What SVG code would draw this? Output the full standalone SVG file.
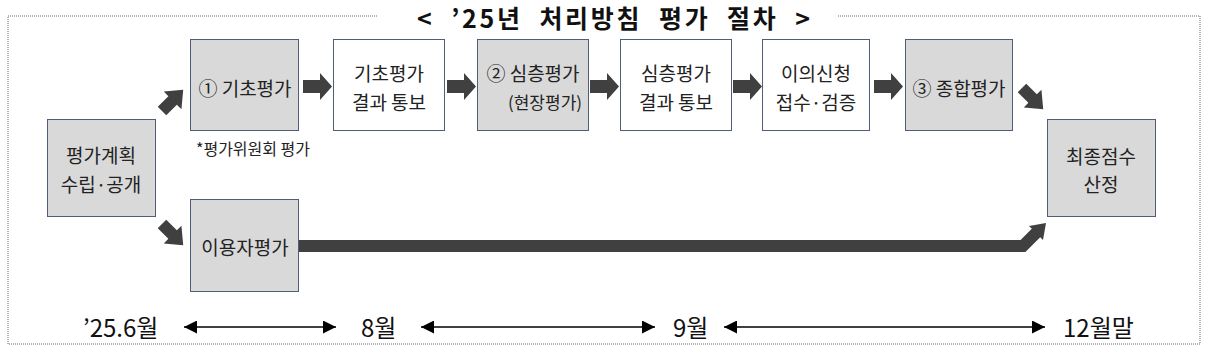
<svg xmlns="http://www.w3.org/2000/svg" width="1209" height="349" viewBox="0 0 1209 349">
<style>
.t{font-family:"Malgun Gothic","Noto Sans CJK KR",sans-serif;fill:#222;text-anchor:middle;dominant-baseline:central}
.b{font-size:19px}
.g{fill:#d9d9d9;stroke:#4f5d7a;stroke-width:1}
.w{fill:#ffffff;stroke:#4f5d7a;stroke-width:1}
.ar{fill:#404040}
.tl{font-family:"Malgun Gothic","Noto Sans CJK KR",sans-serif;font-size:24px;fill:#111;dominant-baseline:central}
</style>
<defs>
<path id="harrow" d="M0,-6.5 H17 V-13.5 L29,0 L17,13.5 V6.5 H0 Z"/>
<path id="darrow" d="M0,-6 H15 V-12.5 L30,0 L15,12.5 V6 H0 Z"/>
<marker id="tri" viewBox="0 0 10 10" refX="10" refY="5" markerWidth="15" markerHeight="13" markerUnits="userSpaceOnUse" orient="auto-start-reverse"><path d="M0,0 L10,5 L0,10 Z" fill="#000"/></marker>
</defs>

<g id="frame" fill="none" stroke="#666" stroke-width="1" stroke-dasharray="1,1">
<path d="M377,16 H8 V344 H1200 V16 H838"/>
</g>
<text x="417" y="17" textLength="393" lengthAdjust="spacing" xml:space="preserve" style="font-family:'Noto Sans CJK KR',sans-serif;font-weight:bold;font-size:25px;fill:#111;dominant-baseline:central">&lt;  ’25년  처리방침  평가  절차  &gt;</text>

<g id="n-plan"><rect class="g" x="47.5" y="119.5" width="108" height="97"/><text class="t b" x="101" y="154">평가계획</text><text class="t b" x="101" y="183">수립·공개</text></g>
<g id="n-basic"><rect class="g" x="190.5" y="39.5" width="108" height="91"/><text class="t b" x="245" y="87">① 기초평가</text></g>
<text class="t" x="253" y="148" style="font-size:16px">*평가위원회 평가</text>
<g id="n-basic-res"><rect class="w" x="333.5" y="39.5" width="111" height="91"/><text class="t b" x="389" y="72">기초평가</text><text class="t b" x="389" y="101">결과 통보</text></g>
<g id="n-deep"><rect class="g" x="477.5" y="39.5" width="111" height="91"/><text class="t b" x="533" y="72">② 심층평가</text><text class="t" x="545" y="101" style="font-size:17px">(현장평가)</text></g>
<g id="n-deep-res"><rect class="w" x="620.5" y="39.5" width="111" height="91"/><text class="t b" x="676" y="72">심층평가</text><text class="t b" x="676" y="101">결과 통보</text></g>
<g id="n-objection"><rect class="w" x="762.5" y="39.5" width="107" height="91"/><text class="t b" x="816" y="72">이의신청</text><text class="t b" x="816" y="101">접수·검증</text></g>
<g id="n-total"><rect class="g" x="905.5" y="39.5" width="107" height="91"/><text class="t b" x="959" y="87">③ 종합평가</text></g>
<g id="n-final"><rect class="g" x="1047.5" y="119.5" width="108" height="97"/><text class="t b" x="1101" y="155">최종점수</text><text class="t b" x="1101" y="183">산정</text></g>
<g id="n-user"><rect class="g" x="190.5" y="199.5" width="108" height="92"/><text class="t b" x="245" y="246">이용자평가</text></g>

<g id="connectors">
<g class="ar">
<use href="#harrow" x="303" y="86.5"/>
<use href="#harrow" x="447" y="86.5"/>
<use href="#harrow" x="590" y="86.5"/>
<use href="#harrow" x="733" y="86.5"/>
<use href="#harrow" x="874" y="86.5"/>
<use href="#darrow" transform="translate(162,111) rotate(-45)"/>
<use href="#darrow" transform="translate(162,224) rotate(45)"/>
<use href="#darrow" transform="translate(1022,88) rotate(45)"/>
<polygon points="299,240 1020.6,240 1031.8,228.8 1029,226 1046,223 1043,240 1040.2,237.2 1025.4,252 299,252"/>
</g>
<g stroke="#000" stroke-width="1.5" fill="none">
<line x1="184" y1="327" x2="336" y2="327" marker-start="url(#tri)" marker-end="url(#tri)"/>
<line x1="421" y1="327" x2="655" y2="327" marker-start="url(#tri)" marker-end="url(#tri)"/>
<line x1="724" y1="327" x2="1045" y2="327" marker-start="url(#tri)" marker-end="url(#tri)"/>
</g>
</g>
<g id="timeline">
<text class="tl" x="83" y="326">’25.6월</text>
<text class="tl" x="361" y="326">8월</text>
<text class="tl" x="673" y="326">9월</text>
<text class="tl" x="1063" y="326">12월말</text>
</g>
</svg>
